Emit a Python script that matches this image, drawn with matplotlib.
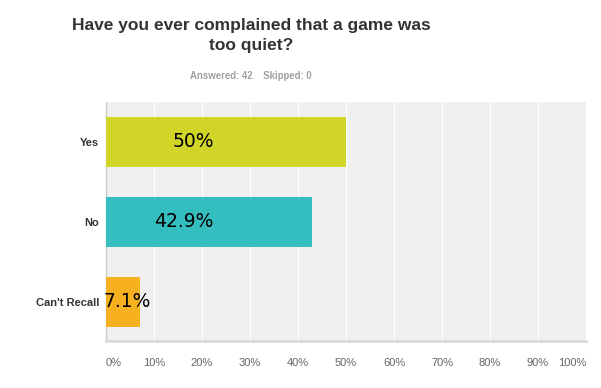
import matplotlib.pyplot as plt
import numpy as np

# survey data
categories = ["Yes", "No", "Can't Recall"]
values = [50.0, 42.9, 7.1]
labels = ["50%", "42.9%", "7.1%"]
label_x = [18.1, 16.1, 4.4]   # where the value text sits (in %)
colors = ["#d0d527", "#34bebf", "#f7b01f"]
ticks = np.arange(0, 101, 10)
tick_labels = ["%d%%" % t for t in ticks]

W, H = 601, 388
fig = plt.figure(figsize=(W / 100, H / 100), dpi=100)
ax = fig.add_axes([106 / W, 1 - 341 / H, 480 / W, 239 / H])
ax.set_facecolor("#f0f0f0")

y = np.arange(len(categories))
ax.barh(y, values, height=0.625, color=colors, zorder=3)
ax.set_xlim(0, 100)
ax.set_ylim(2.49, -0.5)

for yi, lx, lab in zip(y, label_x, labels):
    ax.text(lx, yi, lab, ha="center", va="center", fontsize=13.5,
            family="DejaVu Sans", color="black", zorder=4)

ax.set_xticks(ticks)
ax.set_xticklabels(tick_labels)
ax.grid(axis="x", color="white", linewidth=1, zorder=1)
ax.tick_params(axis="x", length=0, pad=12, labelsize=8, labelcolor="#666666")
tl = ax.get_xticklabels()
for t in tl:
    t.set_family("Liberation Sans")
tl[0].set_ha("left")
tl[-1].set_ha("right")

ax.set_yticks(y)
ax.set_yticklabels(categories, fontsize=8, fontweight="bold",
                   color="#333333", family="Liberation Sans")
ax.tick_params(axis="y", length=0, pad=5)

for s in ["top", "right"]:
    ax.spines[s].set_visible(False)
ax.spines["left"].set_color("#cccccc")
ax.spines["left"].set_linewidth(1)
ax.spines["bottom"].set_color("#d9d9d9")
ax.spines["bottom"].set_linewidth(2)

fig.text(251 / W, 1 - 50 / H, "Have you ever complained that a game was\ntoo quiet?",
         ha="center", va="baseline", fontsize=12.5, fontweight="bold",
         color="#333333", family="Liberation Sans", linespacing=1.45)
fig.text(251 / W, 1 - 79 / H, "Answered: 42    Skipped: 0", ha="center",
         va="baseline", fontsize=6.9, fontweight="bold", color="#a0a0a0",
         family="Liberation Sans")

fig.savefig("out.png", dpi=100)
